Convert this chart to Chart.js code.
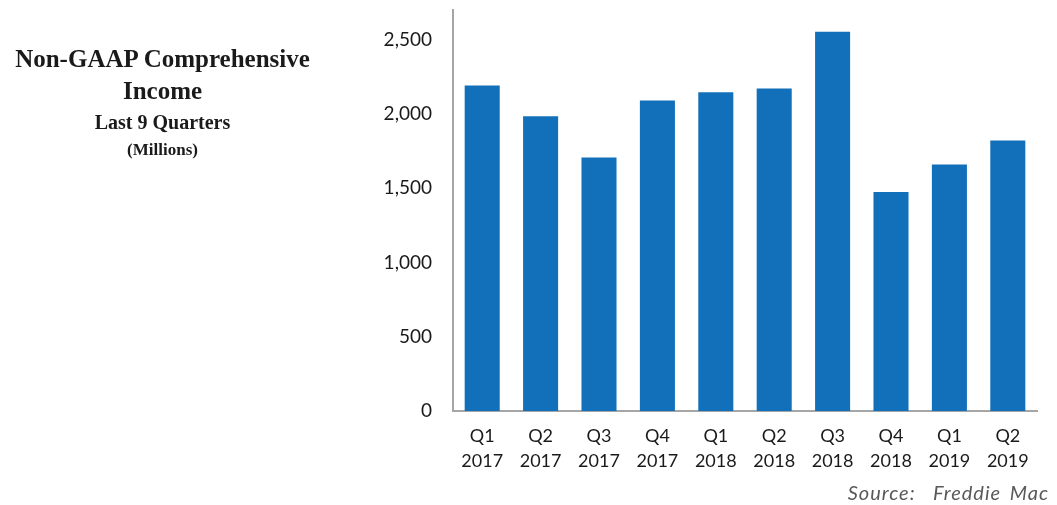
<!DOCTYPE html>
<html>
<head>
<meta charset="utf-8">
<script src="https://cdn.jsdelivr.net/npm/chart.js@4"></script>
<style>
  body { margin: 0; background: #fff; }
  #wrap { position: relative; width: 1057px; height: 505px; }
  #titulo {
    position: absolute; left: 0; top: 43px; width: 325px;
    text-align: center; font-family: "Liberation Serif", serif; font-weight: bold; color: #1a1a1a;
  }
  #titulo .t1 { font-size: 25px; line-height: 32px; }
  #titulo .t2 { font-size: 20px; line-height: 30px; }
  #titulo .t3 { font-size: 17px; line-height: 26px; }
  #fuente {
    position: absolute; right: 8px; top: 480px;
    font-family: Lato, sans-serif; font-style: italic; font-size: 20px; color: #595959;
    letter-spacing: 1px; word-spacing: 3px;
  }
</style>
</head>
<body>
<div id="wrap">
  <canvas id="grafico" width="1057" height="505"></canvas>
  <div id="titulo">
    <div class="t1">Non-GAAP Comprehensive</div>
    <div class="t1">Income</div>
    <div class="t2">Last 9 Quarters</div>
    <div class="t3">(Millions)</div>
  </div>
  <div id="fuente">Source:&nbsp; Freddie Mac</div>
</div>
<script>
// Datos del grafico
const trimestres = ['Q1', 'Q2', 'Q3', 'Q4', 'Q1', 'Q2', 'Q3', 'Q4', 'Q1', 'Q2'];
const anios = ['2017', '2017', '2017', '2017', '2018', '2018', '2018', '2018', '2019', '2019'];
const ingresos = [2192, 1985, 1707, 2091, 2147, 2172, 2553, 1474, 1660, 1822];
const marcasY = [0, 500, 1000, 1500, 2000, 2500];
const ejeMax = 2700;

const etiquetas = trimestres.map((q, i) => [q, anios[i]]);

const ctx = document.getElementById('grafico').getContext('2d');
new Chart(ctx, {
    type: 'bar',
    data: {
        labels: etiquetas,
        datasets: [{
            data: ingresos,
            backgroundColor: '#1170b9',
            borderWidth: 0,
            barPercentage: 0.6,
            categoryPercentage: 1
        }]
    },
    options: {
        responsive: false,
        animation: false,
        layout: { padding: { left: 380, right: 20, top: 10, bottom: 0 } },
        plugins: { legend: { display: false }, tooltip: { enabled: false } },
        scales: {
            x: {
                grid: { display: false, drawTicks: false },
                border: { color: '#a6a6a6', width: 2 },
                ticks: {
                    color: '#1a1a1a',
                    padding: 13,
                    maxRotation: 0,
                    font: { family: 'Lato', size: 18, lineHeight: 1.39 }
                },
                afterFit: (eje) => { eje.height = 94; }
            },
            y: {
                min: 0,
                max: ejeMax,
                grid: { display: false, drawTicks: false },
                border: { color: '#a6a6a6', width: 2 },
                ticks: {
                    color: '#1a1a1a',
                    padding: 21,
                    font: { family: 'Lato', size: 19 },
                    callback: (v) => v.toLocaleString('en-US')
                },
                // solo las marcas de 500 en 500, sin la del tope
                afterBuildTicks: (eje) => { eje.ticks = marcasY.map(v => ({ value: v })); },
                afterFit: (eje) => {
                    eje.width = 73;
                    eje.paddingTop = 0;
                    eje.paddingBottom = 0;
                }
            }
        }
    }
});
</script>
</body>
</html>
